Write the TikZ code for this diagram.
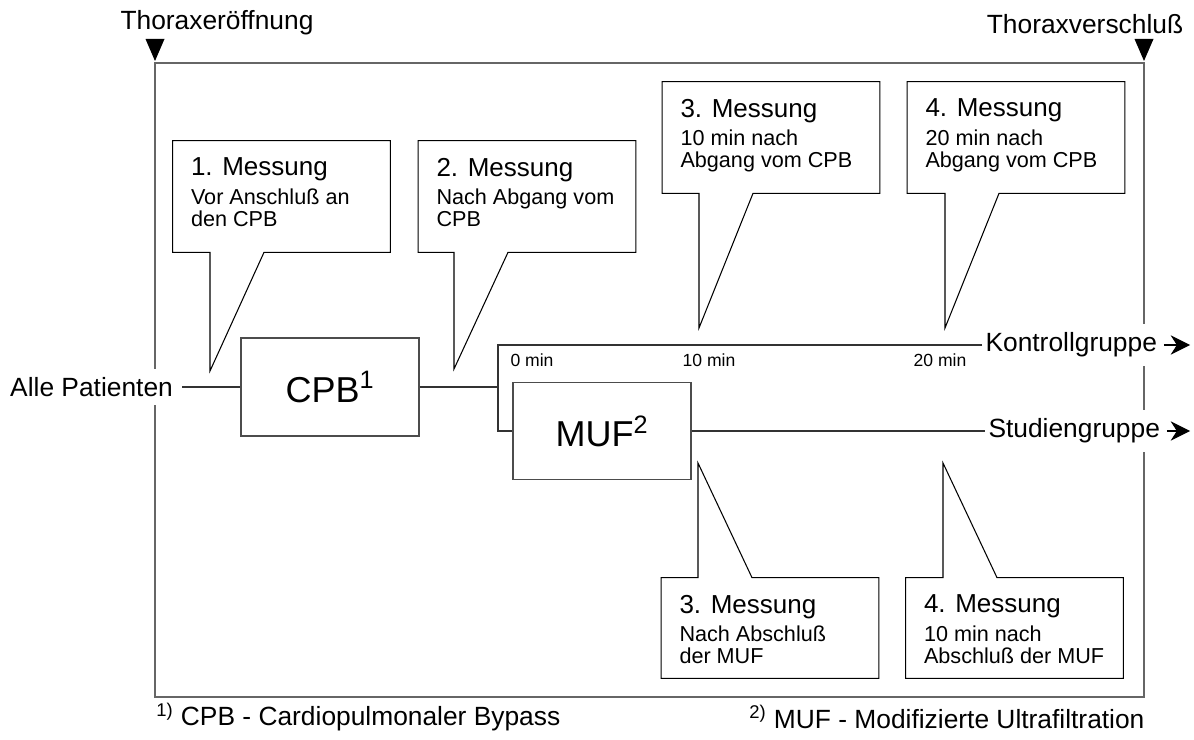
\documentclass[tikz,border=0pt]{standalone}
\usepackage{fontspec}
\setmainfont{Liberation Sans}
\usetikzlibrary{positioning, arrows.meta, calc}

\newcommand{\messung}[1]{{\fontsize{14.8}{17}\selectfont #1}}

\begin{document}
\begin{tikzpicture}[
  x=0.02cm, y=-0.02cm,
  every node/.style={font=\fontsize{15}{17}\selectfont},
  frameline/.style={draw=black!60, line width=0.8pt},
  flow/.style={draw=black!80, line width=0.6pt},
  block/.style={draw=black!70, line width=0.7pt, minimum width=3.56cm, minimum height=1.96cm,
                inner sep=0pt, font=\fontsize{20.5}{24}\selectfont},
  grp/.style={fill=white, inner xsep=1.8pt, inner ysep=5pt},
  arr/.style={-{Stealth[length=11pt, width=11pt, inset=3.5pt]}, line width=0.7pt, shorten <=2pt},
  mbox/.style={minimum width=4.34cm, minimum height=2.22cm, inner sep=0pt},
  mtext/.style={align=left, inner sep=0pt, font=\fontsize{12.3}{12.6}\selectfont},
  callout/.style={draw=black, line width=0.6pt, fill=white},
  timelbl/.style={font=\fontsize{10}{12}\selectfont}
]
\useasboundingbox (0,0) rectangle (1194,740);

% ---- Frame and time marks ----
\draw[frameline] (155,63) rectangle (1144,697);
\coordinate (open) at (155,61);
\coordinate (close) at (1144,61);
\fill (open) -- ++(-9.5,-22) -- ++(19,0) -- cycle;
\fill (close) -- ++(-9.5,-22) -- ++(19,0) -- cycle;
\node (opentxt) at (217,23) {Thoraxeröffnung};
\node (closetxt) at (1085,24) {Thoraxverschluß};

% ---- Main flow ----
\node[grp, inner xsep=5pt, anchor=east] (alle) at (182,387) {Alle Patienten};
\node[block] (cpb) at (330,387) {CPB\textsuperscript{1}};
\node[block, minimum height=1.94cm] (muf) at (602,431) {MUF\textsuperscript{2}};
\node[grp, anchor=west] (kontroll) at (982,345) {Kontrollgruppe};
\node[grp, anchor=west] (studien) at (985,431) {Studiengruppe};

\coordinate (split) at (498,387);
\coordinate (kstart) at (498,345);
\coordinate (sstart) at (498,431);
\coordinate (kend) at (1190,345);
\coordinate (send) at (1190,431);

\draw[flow] (alle.east) -- (cpb.west);
\draw[flow] (cpb.east) -- (split);
\draw[flow] (kontroll.west) -- (kstart) -- (sstart) -- (muf.west);
\draw[flow] (muf.east) -- (studien.west);
\draw[arr] (kontroll.east) -- (kend);
\draw[arr] (studien.east) -- (send);

\node[timelbl] (tm0) at (532,360) {0 min};
\node[timelbl] (tm10) at (709,360) {10 min};
\node[timelbl] (tm20) at (940,360) {20 min};

% ---- Measurements above ----
\node[mbox] (b1) at (281.5,196.5) {};
\node[mbox] (b2) at (527,196.5) {};
\node[mbox] (b3) at (771,137.5) {};
\node[mbox] (b4) at (1016,137.5) {};
\coordinate (p1) at (210,371);
\coordinate (p2) at (454,369);
\coordinate (p3) at (699,328);
\coordinate (p4) at (945,328);

\foreach \i in {1,...,4}{
  \draw[callout] (b\i.north west) -- (b\i.north east) -- (b\i.south east)
    -- ($(b\i.south -| p\i)+(54,0)$) -- (p\i) -- (b\i.south -| p\i) -- (b\i.south west) -- cycle;
}

\node[mtext, below right=0.34cm and 0.36cm of b1.north west] (m1)
  {\messung{1. Messung}\\[3.5pt] Vor Anschluß an\\ den CPB};
\node[mtext, below right=0.34cm and 0.36cm of b2.north west] (m2)
  {\messung{2. Messung}\\[3.5pt] Nach Abgang vom\\ CPB};
\node[mtext, below right=0.34cm and 0.36cm of b3.north west] (m3)
  {\messung{3. Messung}\\[3.5pt] 10 min nach\\ Abgang vom CPB};
\node[mtext, below right=0.34cm and 0.36cm of b4.north west] (m4)
  {\messung{4. Messung}\\[3.5pt] 20 min nach\\ Abgang vom CPB};

% ---- Measurements below ----
\node[mbox, minimum height=2cm] (b5) at (770,628) {};
\node[mbox, minimum height=2cm] (b6) at (1014.5,628) {};
\coordinate (p5) at (698,463);
\coordinate (p6) at (943,463);

\foreach \i in {5,6}{
  \draw[callout] (b\i.south west) -- (b\i.south east) -- (b\i.north east)
    -- ($(b\i.north -| p\i)+(54,0)$) -- (p\i) -- (b\i.north -| p\i) -- (b\i.north west) -- cycle;
}

\node[mtext, below right=0.34cm and 0.36cm of b5.north west] (m5)
  {\messung{3. Messung}\\[3.5pt] Nach Abschluß\\ der MUF};
\node[mtext, below right=0.34cm and 0.36cm of b6.north west] (m6)
  {\messung{4. Messung}\\[3.5pt] 10 min nach\\ Abschluß der MUF};

% ---- Footnotes ----
\node[anchor=west, inner xsep=0pt] (fn1) at (156,717)
  {\textsuperscript{1)}\ CPB - Cardiopulmonaler Bypass};
\node[anchor=west, inner xsep=0pt] (fn2) at (749,717)
  {\textsuperscript{2)}\ MUF - Modifizierte Ultrafiltration};

\end{tikzpicture}
\end{document}
